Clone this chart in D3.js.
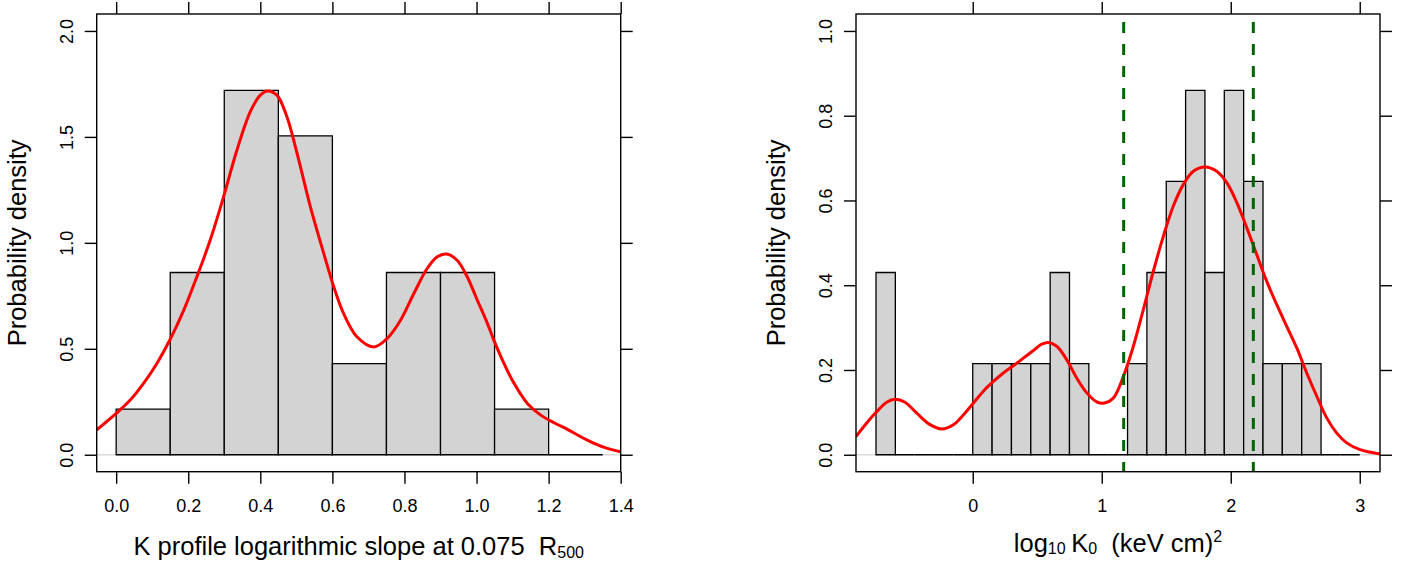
<!DOCTYPE html>
<html>
<head>
<meta charset="utf-8">
<script src="https://cdn.jsdelivr.net/npm/d3@7"></script>
<style>
  body { margin: 0; background: #fff; }
  svg { display: block; font-family: "Liberation Sans", Arial, Helvetica, sans-serif; }
</style>
</head>
<body>
<svg id="chart" width="1416" height="570"></svg>
<script>
// left panel: K profile slope histogram
const leftBreaks = [0, 0.15, 0.3, 0.45, 0.6, 0.75, 0.9, 1.05, 1.2, 1.35];
const leftDensity = [0.215, 0.86, 1.72, 1.505, 0.43, 0.86, 0.86, 0.215, 0];
const leftXTicks = [0, 0.2, 0.4, 0.6, 0.8, 1.0, 1.2, 1.4];
const leftYTicks = [0, 0.5, 1.0, 1.5, 2.0];
const leftCurveX = [-0.054, 0, 0.039, 0.076, 0.113, 0.15, 0.187, 0.224, 0.261, 0.298, 0.335, 0.372, 0.4, 0.42, 0.446, 0.474, 0.502, 0.539, 0.576, 0.604, 0.631, 0.668, 0.715, 0.752, 0.789, 0.826, 0.863, 0.891, 0.917, 0.946, 0.974, 1.002, 1.03, 1.048, 1.076, 1.104, 1.141, 1.178, 1.215, 1.252, 1.289, 1.326, 1.363, 1.4];
const leftCurveY = [0.117, 0.195, 0.258, 0.337, 0.431, 0.545, 0.68, 0.84, 1.013, 1.217, 1.437, 1.618, 1.697, 1.717, 1.697, 1.594, 1.422, 1.17, 0.95, 0.792, 0.667, 0.557, 0.509, 0.549, 0.635, 0.761, 0.879, 0.934, 0.947, 0.918, 0.84, 0.73, 0.62, 0.541, 0.431, 0.337, 0.242, 0.187, 0.151, 0.12, 0.085, 0.054, 0.03, 0.014];

// right panel: log10 K0 histogram
const rightBreaks = [-0.75, -0.6, -0.45, -0.3, -0.15, 0, 0.15, 0.3, 0.45, 0.6, 0.75, 0.9, 1.05, 1.2, 1.35, 1.5, 1.65, 1.8, 1.95, 2.1, 2.25, 2.4, 2.55, 2.7, 2.85, 3.0];
const rightDensity = [0.43, 0, 0, 0, 0, 0.215, 0.215, 0.215, 0.215, 0.43, 0.215, 0, 0, 0.215, 0.43, 0.645, 0.86, 0.43, 0.86, 0.645, 0.215, 0.215, 0.215, 0, 0];
const rightXTicks = [0, 1, 2, 3];
const rightYTicks = [0, 0.2, 0.4, 0.6, 0.8, 1.0];
const rightCurveX = [-0.905, -0.822, -0.744, -0.667, -0.602, -0.525, -0.434, -0.331, -0.24, -0.15, -0.073, 0.005, 0.082, 0.16, 0.237, 0.315, 0.392, 0.47, 0.535, 0.586, 0.651, 0.729, 0.806, 0.884, 0.961, 1.02, 1.09, 1.168, 1.245, 1.323, 1.4, 1.478, 1.555, 1.633, 1.71, 1.801, 1.891, 1.969, 2.047, 2.124, 2.202, 2.279, 2.357, 2.434, 2.512, 2.589, 2.667, 2.744, 2.822, 2.899, 3.002, 3.157];
const rightCurveY = [0.043, 0.075, 0.102, 0.124, 0.131, 0.124, 0.098, 0.071, 0.061, 0.071, 0.094, 0.122, 0.15, 0.173, 0.193, 0.21, 0.228, 0.246, 0.261, 0.265, 0.256, 0.224, 0.181, 0.146, 0.125, 0.122, 0.134, 0.185, 0.256, 0.343, 0.433, 0.516, 0.587, 0.638, 0.669, 0.679, 0.669, 0.642, 0.595, 0.536, 0.472, 0.409, 0.354, 0.303, 0.252, 0.193, 0.138, 0.087, 0.051, 0.028, 0.012, 0.002];
const rightVLines = [1.17, 2.175];

const svg = d3.select("#chart");
const plotTop = 14, plotBottom = 471.7;

function drawPanel(cfg) {
  const x = d3.scaleLinear().domain(cfg.xDomain).range([cfg.left, cfg.right]);
  const y = d3.scaleLinear().domain(cfg.yDomain).range([plotBottom, plotTop]);
  const g = svg.append("g");

  g.append("clipPath").attr("id", cfg.id + "-clip")
    .append("rect")
    .attr("x", cfg.left).attr("y", plotTop)
    .attr("width", cfg.right - cfg.left).attr("height", plotBottom - plotTop);

  const plot = g.append("g").attr("clip-path", `url(#${cfg.id}-clip)`);

  // light baseline at zero
  plot.append("line")
    .attr("x1", cfg.left).attr("x2", cfg.right)
    .attr("y1", y(0)).attr("y2", y(0))
    .attr("stroke", "#d9d9d9").attr("stroke-width", 1.3);

  // histogram bars (paths so that empty bins still show their edge)
  plot.selectAll("path.bar")
    .data(cfg.density)
    .join("path")
    .attr("class", "bar")
    .attr("d", (d, i) => {
      const x0 = x(cfg.breaks[i]), x1 = x(cfg.breaks[i + 1]);
      return `M${x0},${y(0)}V${y(d)}H${x1}V${y(0)}Z`;
    })
    .attr("fill", "#d3d3d3")
    .attr("stroke", "#000")
    .attr("stroke-width", 1.3);

  const line = d3.line()
    .x(d => x(d[0]))
    .y(d => y(d[1]))
    .curve(d3.curveCatmullRom.alpha(0.5));

  plot.append("path")
    .datum(d3.zip(cfg.curveX, cfg.curveY))
    .attr("d", line)
    .attr("fill", "none")
    .attr("stroke", "#ff0000")
    .attr("stroke-width", 3);

  if (cfg.vlines) {
    plot.selectAll("line.vl")
      .data(cfg.vlines)
      .join("line")
      .attr("class", "vl")
      .attr("x1", d => x(d)).attr("x2", d => x(d))
      .attr("y1", plotTop).attr("y2", plotBottom)
      .attr("stroke", "#006400")
      .attr("stroke-width", 3)
      .attr("stroke-dasharray", "11,11")
      .attr("stroke-dashoffset", 14);
  }

  // frame
  g.append("rect")
    .attr("x", cfg.left).attr("y", plotTop)
    .attr("width", cfg.right - cfg.left).attr("height", plotBottom - plotTop)
    .attr("fill", "none").attr("stroke", "#000").attr("stroke-width", 1.4);

  const style = (ax) => {
    ax.select(".domain").remove();
    ax.selectAll(".tick line").attr("stroke-width", 1.4);
    ax.selectAll("text").attr("font-size", 18).attr("fill", "#000");
  };

  g.append("g")
    .attr("transform", `translate(0,${plotBottom})`)
    .call(d3.axisBottom(x).tickValues(cfg.xTicks).tickSize(12).tickFormat(cfg.xFormat))
    .call(style)
    .call(ax => ax.selectAll("text").attr("y", 512 - plotBottom).attr("dy", 0));

  g.append("g")
    .attr("transform", `translate(0,${plotTop})`)
    .call(d3.axisTop(x).tickValues(cfg.xTicks).tickSize(12).tickFormat(""))
    .call(style);

  g.append("g")
    .attr("transform", `translate(${cfg.left},0)`)
    .call(d3.axisLeft(y).tickValues(cfg.yTicks).tickSize(12).tickFormat(cfg.yFormat))
    .call(style)
    .call(ax => ax.selectAll("text")
      .attr("transform", "rotate(-90)")
      .attr("x", 0).attr("y", -23.7).attr("dy", 0)
      .attr("text-anchor", "middle"));

  g.append("g")
    .attr("transform", `translate(${cfg.right},0)`)
    .call(d3.axisRight(y).tickValues(cfg.yTicks).tickSize(12).tickFormat(""))
    .call(style);

  // y label
  g.append("text")
    .attr("transform", `translate(${cfg.left - 70.7},${(plotTop + plotBottom) / 2}) rotate(-90)`)
    .attr("text-anchor", "middle")
    .attr("font-size", 25.5)
    .text("Probability density");

  const xl = g.append("text")
    .attr("x", (cfg.left + cfg.right) / 2)
    .attr("y", cfg.xLabelY)
    .attr("text-anchor", "middle")
    .attr("font-size", 25.5)
    .style("white-space", "pre");
  cfg.xLabel(xl);
}

drawPanel({
  id: "left",
  left: 96.7, right: 620.7,
  xDomain: [-0.054, 1.4], yDomain: [-0.08, 2.08],
  breaks: leftBreaks, density: leftDensity,
  curveX: leftCurveX, curveY: leftCurveY,
  xTicks: leftXTicks, yTicks: leftYTicks,
  xFormat: d3.format(".1f"), yFormat: d3.format(".1f"),
  xLabelY: 555,
  xLabel: t => {
    t.append("tspan").text("K profile logarithmic slope at 0.075  R");
    t.append("tspan").attr("font-size", 16).attr("dy", 3.3).text("500");
  }
});

drawPanel({
  id: "right",
  left: 856, right: 1380,
  xDomain: [-0.905, 3.157], yDomain: [-0.04, 1.04],
  breaks: rightBreaks, density: rightDensity,
  curveX: rightCurveX, curveY: rightCurveY,
  vlines: rightVLines,
  xTicks: rightXTicks, yTicks: rightYTicks,
  xFormat: d3.format("d"), yFormat: d3.format(".1f"),
  xLabelY: 551.7,
  xLabel: t => {
    t.append("tspan").text("log");
    t.append("tspan").attr("font-size", 16).attr("dy", 2.5).text("10");
    t.append("tspan").attr("dy", -2.5).attr("dx", 5.5).text("K");
    t.append("tspan").attr("font-size", 16).attr("dy", 2.5).text("0");
    t.append("tspan").attr("dy", -2.5).text("  (keV cm)");
    t.append("tspan").attr("font-size", 16).attr("dy", -9.5).text("2");
  }
});
</script>
</body>
</html>
